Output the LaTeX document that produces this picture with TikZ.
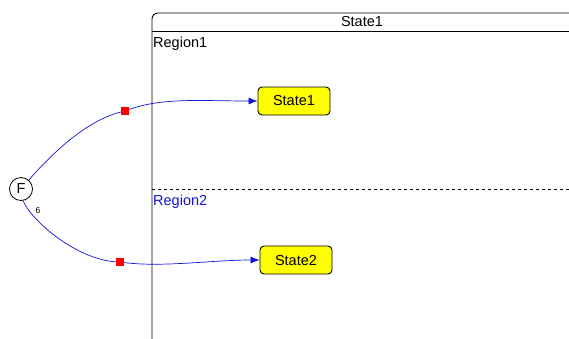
\documentclass[tikz,border=0pt]{standalone}
\usepackage{fontspec}
\setmainfont{Liberation Sans}
\usetikzlibrary{arrows.meta}
\definecolor{lblue}{RGB}{20,20,220}
\definecolor{syel}{RGB}{255,255,0}
\tikzset{
  txt/.style={font=\fontsize{14.5}{16}\selectfont},
  statebox/.style={txt, rectangle, rounded corners=4pt, draw=black, fill=syel, line width=0.9pt, minimum width=72pt, minimum height=28pt, inner sep=0pt},
  conn/.style={draw=lblue, line width=0.7pt},
  arr/.style={conn, -{Latex[length=9pt,width=7pt]}},
  handle/.style={fill=red, draw=none, minimum size=8pt, inner sep=0pt, rectangle},
  lbl/.style={txt, anchor=west, inner sep=0pt},
}
\begin{document}
\begin{tikzpicture}[x=1pt,y=-1pt]
\useasboundingbox (0,0) rectangle (569,338);
% composite state outline
\draw[line width=0.9pt, rounded corners=6pt] (152,340) |- (572,13);
\draw[line width=0.9pt] (152,31) -- (572,31);
\node[txt] (title) at (362,22) {State1};
\node[lbl] (r1) at (153,44) {Region1};
\draw[dashed, line width=0.7pt] (152,189) -- (572,189);
\node[lbl, text=lblue] (r2) at (153,202) {Region2};
% states
\node[statebox] (s1) at (294,101) {State1};
\node[statebox] (s2) at (296,260) {State2};
% fork / F
\node[txt, circle, draw=black, fill=white, line width=0.8pt, minimum size=23pt, inner sep=0pt] (F) at (21,189) {F};
\node[font=\fontsize{8.5}{9}\selectfont, inner sep=0pt] (six) at (38,211) {6};
% handle positions
\coordinate (h1) at (125,111);
\coordinate (h2) at (120,262);
% connectors
\draw[conn] (F) .. controls (55,150) and (90,118) .. (h1);
\draw[arr] (h1) .. controls (160,97) and (200,101) .. (s1.west);
\draw[conn] (F.-80) .. controls (32,222) and (80,262) .. (h2);
\draw[arr] (h2) .. controls (160,268) and (210,260) .. (s2.west);
\node[handle] (h1sq) at (h1) {};
\node[handle] (h2sq) at (h2) {};
\end{tikzpicture}
\end{document}
